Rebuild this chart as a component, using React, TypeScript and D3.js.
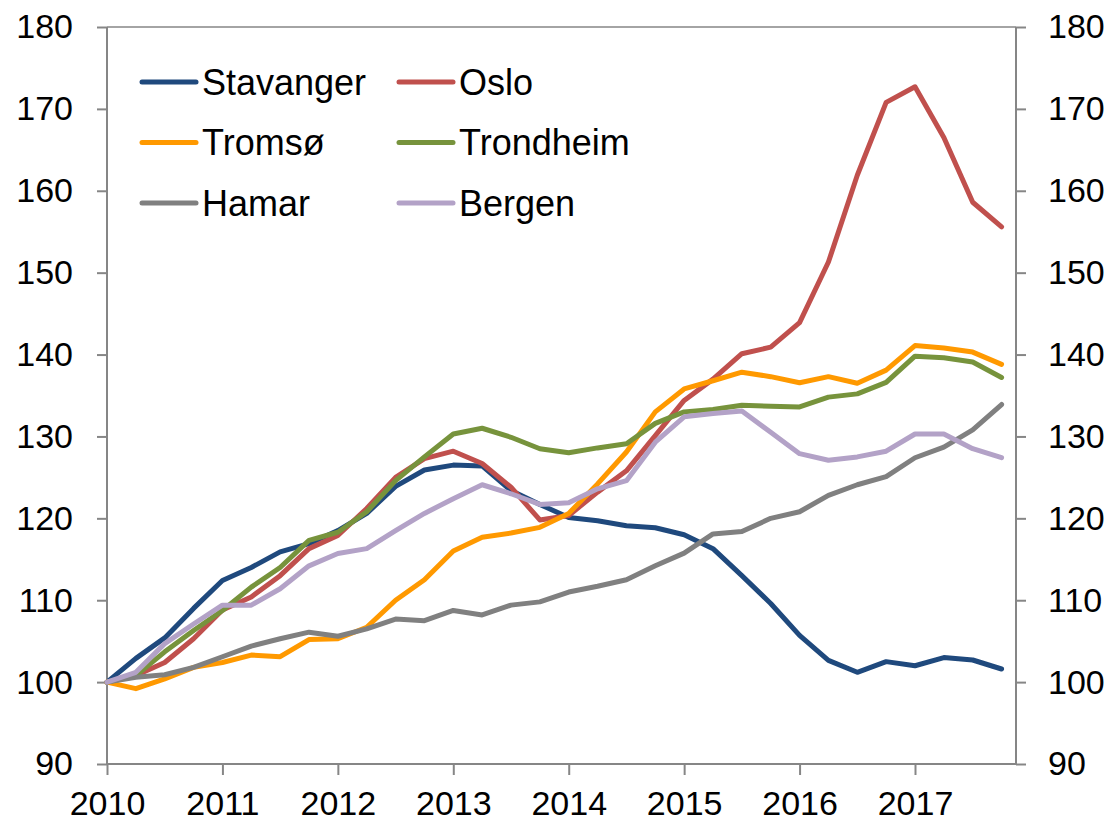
import { useRef, useEffect } from 'react';
import * as d3 from 'd3';

// quarterly index, 2010Q1 = 100
const years = ['2010', '2011', '2012', '2013', '2014', '2015', '2016', '2017'];
const yTicks = [90, 100, 110, 120, 130, 140, 150, 160, 170, 180];

const stavanger = [100, 102.9, 105.4, 109.0, 112.4, 114.0, 115.9, 116.9, 118.5, 120.6, 123.9, 125.9, 126.5, 126.4, 123.4, 121.7, 120.1, 119.7, 119.1, 118.85, 118.0, 116.3, 113.0, 109.6, 105.7, 102.65, 101.2, 102.5, 102.0, 103.0, 102.7, 101.6];
const oslo = [100, 100.8, 102.4, 105.3, 108.8, 110.4, 113.0, 116.3, 117.9, 121.2, 125.0, 127.3, 128.2, 126.7, 123.8, 119.8, 120.35, 123.2, 125.8, 130.1, 134.4, 137.0, 140.1, 140.9, 143.9, 151.3, 161.9, 170.8, 172.7, 166.5, 158.6, 155.6];
const tromso = [100, 99.2, 100.4, 101.8, 102.4, 103.3, 103.1, 105.2, 105.3, 106.7, 110.0, 112.5, 116.0, 117.7, 118.2, 118.9, 120.6, 124.2, 128.1, 133.0, 135.8, 136.8, 137.85, 137.3, 136.55, 137.3, 136.5, 138.1, 141.1, 140.8, 140.3, 138.8];
const trondheim = [100, 100.8, 103.7, 106.3, 108.75, 111.6, 114.0, 117.3, 118.3, 120.8, 124.6, 127.5, 130.3, 131.0, 129.9, 128.5, 128.0, 128.6, 129.1, 131.6, 133.0, 133.3, 133.8, 133.7, 133.6, 134.8, 135.2, 136.6, 139.8, 139.6, 139.1, 137.2];
const hamar = [100, 100.6, 100.9, 101.8, 103.1, 104.4, 105.3, 106.1, 105.6, 106.5, 107.7, 107.5, 108.75, 108.2, 109.4, 109.8, 111.0, 111.7, 112.5, 114.2, 115.75, 118.1, 118.4, 120.0, 120.8, 122.8, 124.1, 125.1, 127.4, 128.7, 130.8, 133.9];
const bergen = [100, 101.2, 104.7, 107.1, 109.4, 109.4, 111.4, 114.2, 115.7, 116.3, 118.5, 120.6, 122.4, 124.1, 123.0, 121.7, 121.9, 123.6, 124.6, 129.3, 132.4, 132.8, 133.1, 130.5, 127.9, 127.1, 127.5, 128.2, 130.3, 130.3, 128.5, 127.4];

const seriesNames = ['Stavanger', 'Oslo', 'Tromsø', 'Trondheim', 'Hamar', 'Bergen'];
const seriesValues = [stavanger, oslo, tromso, trondheim, hamar, bergen];
const colors = ['#1F497D', '#C0504D', '#FF9900', '#77933C', '#808080', '#B3A2C7'];

export default function App() {
  const ref = useRef<SVGSVGElement>(null);

  useEffect(() => {
    if (!ref.current) return;

    const width = 1118;
    const height = 826;
    const margin = { top: 27, right: 102, bottom: 62, left: 107 };
    const font = '"Liberation Sans", Arial, sans-serif';
    const axisColor = '#868686';

    const svg = d3.select(ref.current);
    svg.selectAll('*').remove();
    svg.attr('width', width).attr('height', height);

    const x = d3
      .scaleLinear()
      .domain([0, 31.5])
      .range([margin.left, width - margin.right]);

    const y = d3
      .scaleLinear()
      .domain([90, 180])
      .range([height - margin.bottom, margin.top]);

    const x0 = x.range()[0];
    const x1 = x.range()[1];

    // top border of plot area
    svg
      .append('line')
      .attr('x1', x0)
      .attr('x2', x1)
      .attr('y1', y(180))
      .attr('y2', y(180))
      .attr('stroke', axisColor)
      .attr('stroke-width', 1.5);

    const left = svg
      .append('g')
      .attr('transform', `translate(${x0},0)`)
      .call(d3.axisLeft(y).tickValues(yTicks).tickSize(10).tickPadding(24));

    const right = svg
      .append('g')
      .attr('transform', `translate(${x1},0)`)
      .call(d3.axisRight(y).tickValues(yTicks).tickSize(10).tickPadding(22));

    const bottom = svg
      .append('g')
      .attr('transform', `translate(0,${y(90)})`)
      .call(
        d3
          .axisBottom(x)
          .tickValues(years.map((_, i) => i * 4))
          .tickFormat((d) => years[Math.round(+d / 4)])
          .tickSize(11)
          .tickPadding(16)
      );

    [left, right, bottom].forEach((g) => {
      g.select('.domain').attr('stroke', axisColor).attr('stroke-width', 2);
      g.selectAll('.tick line').attr('stroke', axisColor).attr('stroke-width', 2);
      g.selectAll('.tick text')
        .attr('fill', '#000')
        .style('font-family', font)
        .style('font-size', '34px');
    });
    // axis domain without outer tick stubs
    left.select('.domain').attr('d', `M0,${y(180)}V${y(90)}`);
    right.select('.domain').attr('d', `M0,${y(180)}V${y(90)}`);
    bottom.select('.domain').attr('d', `M${x0},0H${x1}`);

    const line = d3
      .line<number>()
      .x((_, i) => x(i))
      .y((d) => y(d));

    svg
      .append('g')
      .selectAll('path')
      .data(seriesValues)
      .join('path')
      .attr('d', (d) => line(d))
      .attr('fill', 'none')
      .attr('stroke', (_, i) => colors[i])
      .attr('stroke-width', 5)
      .attr('stroke-linejoin', 'round')
      .attr('stroke-linecap', 'round');

    // legend, two columns
    const legend = svg
      .append('g')
      .selectAll('g')
      .data(seriesNames)
      .join('g')
      .attr('transform', (_, i) => `translate(${142 + (i % 2) * 257},${82 + Math.floor(i / 2) * 60.5})`);

    legend
      .append('line')
      .attr('x1', 0)
      .attr('x2', 54)
      .attr('stroke', (_, i) => colors[i])
      .attr('stroke-width', 5)
      .attr('stroke-linecap', 'round');

    legend
      .append('text')
      .attr('x', 60)
      .attr('dy', '0.35em')
      .style('font-family', font)
      .style('font-size', '36px')
      .text((d) => d);
  }, []);

  return (
    <div style={{ position: 'absolute', left: 0, top: 0 }}>
      <svg ref={ref}></svg>
    </div>
  );
}
